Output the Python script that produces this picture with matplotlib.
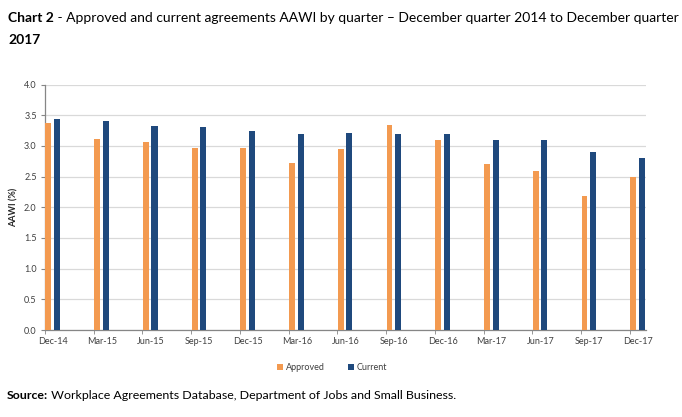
import matplotlib
matplotlib.use("Agg")
import matplotlib.pyplot as plt
import numpy as np

plt.rcParams['font.family'] = ['Lato', 'DejaVu Sans']

quarters = ["Dec-14", "Mar-15", "Jun-15", "Sep-15", "Dec-15", "Mar-16", "Jun-16",
            "Sep-16", "Dec-16", "Mar-17", "Jun-17", "Sep-17", "Dec-17"]
approved = [3.38, 3.11, 3.07, 2.97, 2.97, 2.73, 2.95, 3.34, 3.10, 2.70, 2.59, 2.19, 2.50]
current = [3.44, 3.41, 3.32, 3.31, 3.24, 3.20, 3.21, 3.19, 3.20, 3.10, 3.10, 2.90, 2.80]

ORANGE = "#F39A50"
NAVY = "#1F497D"
GREY_TXT = "#404040"

fig = plt.figure(figsize=(6.82, 4.17), dpi=100)
ax = fig.add_axes([0.066, 0.2086, 0.881, 0.5885])

x = np.arange(len(quarters))
ax.bar(x + 0.01, approved, width=0.12, align='edge', color=ORANGE, label="Approved", zorder=3)
ax.bar(x + 0.185, current, width=0.125, align='edge', color=NAVY, label="Current", zorder=3)

ax.set_xlim(0, len(quarters) - 1 + 0.33)
ax.set_ylim(0, 4.0)
ax.set_yticks(np.arange(0, 4.01, 0.5))
ax.set_yticklabels(["%.1f" % v for v in np.arange(0, 4.01, 0.5)], fontsize=6.5, color=GREY_TXT)
ax.yaxis.grid(True, color="#D9D9D9", linewidth=0.9, zorder=0)
ax.set_axisbelow(True)

# labels sit a bit right of the tick marks, like the excel date axis
ax.set_xticks(x, minor=True)
ax.set_xticks(x + 0.165)
ax.set_xticklabels(quarters, fontsize=6.5, color=GREY_TXT)
ax.tick_params(axis='x', which='major', length=0, pad=5)
ax.tick_params(axis='x', which='minor', length=3, color="#868686")
ax.tick_params(axis='y', length=3, color="#868686", pad=3)

for s in ["top", "right"]:
    ax.spines[s].set_visible(False)
for s in ["left", "bottom"]:
    ax.spines[s].set_color("#868686")
    ax.spines[s].set_linewidth(0.9)

ax.set_ylabel("AAWI (%)", fontsize=6.5, fontweight='bold', color="#262626", labelpad=4)

leg = fig.legend(loc='center', bbox_to_anchor=(0.487, 0.118), ncol=2, frameon=False,
                 fontsize=6.5, handlelength=0.7, handleheight=0.7, handletextpad=0.3,
                 columnspacing=2.5)
for t in leg.get_texts():
    t.set_color(GREY_TXT)

# title and source, first word bold
renderer = fig.canvas.get_renderer()

def mixed(xpos, ypos, bold, rest, size):
    t = fig.text(xpos, ypos, bold, fontsize=size, fontweight='bold', color='black', va='baseline')
    bb = t.get_window_extent(renderer=renderer)
    fig.text(bb.x1 / fig.bbox.width, ypos, rest, fontsize=size, color='black', va='baseline')

mixed(0.012, 1 - 22 / 417, "Chart 2", " - Approved and current agreements AAWI by quarter \u2013 December quarter 2014 to December quarter", 10)
fig.text(0.012, 1 - 44 / 417, "2017", fontsize=10, fontweight='bold', color='black', va='baseline')
mixed(0.010, 1 - 399 / 417, "Source:", " Workplace Agreements Database, Department of Jobs and Small Business.", 8.9)

fig.savefig("out.png", dpi=100)
